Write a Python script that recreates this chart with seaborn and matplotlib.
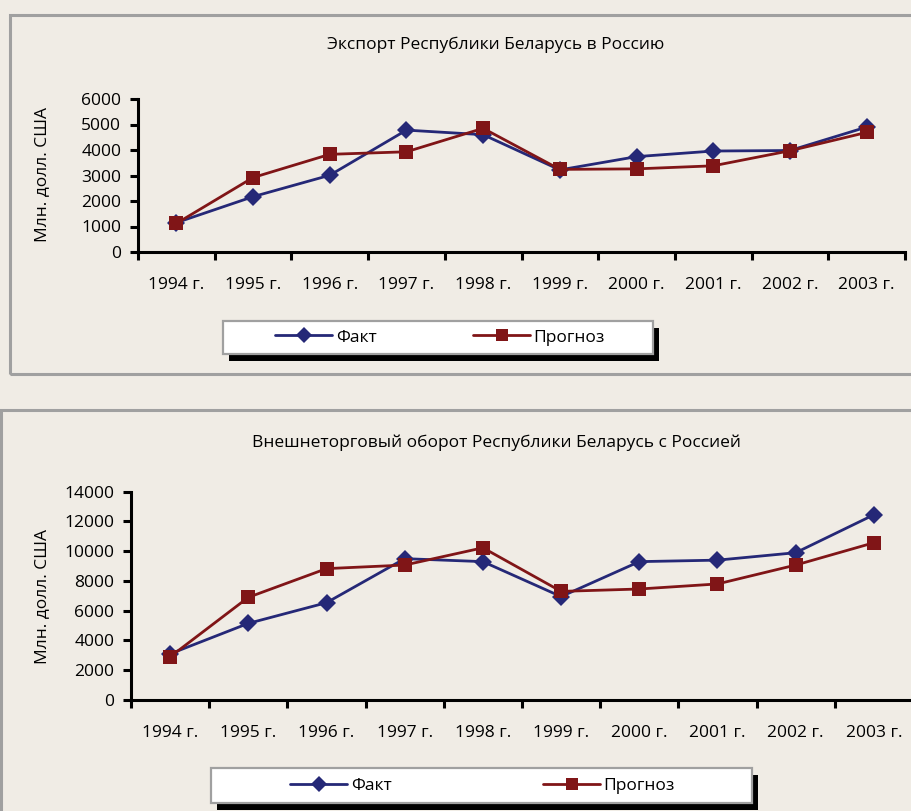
import matplotlib
matplotlib.use('Agg')
import matplotlib.pyplot as plt
from matplotlib.patches import Rectangle
from matplotlib.lines import Line2D
import seaborn as sns
import pandas as pd

years = ['1994 г.', '1995 г.', '1996 г.', '1997 г.', '1998 г.',
         '1999 г.', '2000 г.', '2001 г.', '2002 г.', '2003 г.']

export_fact = [1150, 2170, 3010, 4780, 4600, 3220, 3740, 3960, 3980, 4900]
export_prog = [1120, 2920, 3830, 3930, 4850, 3240, 3260, 3380, 3970, 4690]

trade_fact = [3100, 5150, 6540, 9500, 9300, 6950, 9300, 9400, 9900, 12450]
trade_prog = [2900, 6900, 8830, 9070, 10230, 7300, 7460, 7800, 9070, 10570]

series_names = ['Факт', 'Прогноз']
titles = ['Экспорт Республики Беларусь в Россию',
          'Внешнеторговый оборот Республики Беларусь с Россией']
ylabel = 'Млн. долл. США'

BG = '#F0ECE5'
BORDER = '#A0A0A0'
NAVY = '#252877'
RED = '#801517'

sns.set_style('white')
plt.rcParams['font.family'] = ['Open Sans', 'DejaVu Sans']
plt.rcParams.update({'text.color': 'black', 'axes.labelcolor': 'black',
                     'xtick.color': 'black', 'ytick.color': 'black'})

W, H = 912, 811
fig = plt.figure(figsize=(W / 100, H / 100), dpi=100, facecolor=BG)


def fx(px):
    return px / W


def fy(py):
    return 1 - py / H


def rect(x0, y0, x1, y1, **kw):
    r = Rectangle((fx(x0), fy(y1)), fx(x1) - fx(x0), fy(y0) - fy(y1),
                  transform=fig.transFigure, **kw)
    fig.add_artist(r)


def draw_panel(box, fact, prog, ymax, ystep, title, title_y, ylab_y, leg_box, leg_inner):
    left, top, right, bottom = box
    ax = fig.add_axes([fx(left), fy(bottom), fx(right) - fx(left), fy(top) - fy(bottom)])
    ax.set_facecolor('none')
    df = pd.DataFrame({'year': years * 2,
                       'value': fact + prog,
                       'series': [series_names[0]] * len(years) + [series_names[1]] * len(years)})
    sns.lineplot(data=df[df.series == 'Факт'], x='year', y='value', color=NAVY,
                 marker='D', markersize=9, markeredgewidth=0, linewidth=2,
                 sort=False, ax=ax)
    sns.lineplot(data=df[df.series == 'Прогноз'], x='year', y='value', color=RED,
                 marker='s', markersize=10, markeredgewidth=0, linewidth=2,
                 sort=False, ax=ax)
    ax.set_xlim(-0.5, len(years) - 0.5)
    ax.set_ylim(0, ymax)
    ax.set_yticks(range(0, ymax + 1, ystep))
    ax.set_xticks(range(len(years)))
    ax.set_xticklabels(years)
    ax.set_xticks([i - 0.5 for i in range(len(years) + 1)], minor=True)
    ax.tick_params(axis='x', which='major', bottom=True, length=0, pad=18, labelsize=12.5)
    ax.tick_params(axis='x', which='minor', bottom=True, length=6, width=2.2,
                   direction='out', color='black')
    ax.tick_params(axis='y', which='major', left=True, length=6, width=2.2,
                   direction='out', color='black', pad=6, labelsize=12.5)
    sns.despine(ax=ax)
    for s in ['left', 'bottom']:
        ax.spines[s].set_linewidth(2.2)
        ax.spines[s].set_color('black')
    ax.set_xlabel('')
    ax.set_ylabel(ylabel, fontsize=12.5)
    ax.yaxis.set_label_coords((42 - left) / (right - left), (bottom - ylab_y) / (bottom - top))
    ax.yaxis.label.set_va('center')
    ax.grid(False)
    fig.text(fx(496), fy(title_y), title, ha='center', va='center', fontsize=12.5)

    # legend box with shadow
    lx0, ly0, lx1, ly1 = leg_box
    rect(lx0 + 6, ly0 + 7, lx1 + 6, ly1 + 7, facecolor='black', edgecolor='none', zorder=1)
    rect(lx0, ly0, lx1, ly1, facecolor='white', edgecolor=BORDER, linewidth=1.6, zorder=2)
    handles = [Line2D([], [], color=NAVY, marker='D', markersize=8, markeredgewidth=0, linewidth=2),
               Line2D([], [], color=RED, marker='s', markersize=9, markeredgewidth=0, linewidth=2)]
    ix0, ix1 = leg_inner
    fig.legend(handles, series_names, loc='center', ncol=2, mode='expand', frameon=False,
               bbox_to_anchor=(fx(ix0), fy(ly1), fx(ix1) - fx(ix0), fy(ly0) - fy(ly1)),
               borderpad=0, borderaxespad=0, handlelength=3.3, handletextpad=0.2,
               fontsize=12.5)
    return ax


# panel borders
rect(10.5, 14.5, 940, 374, fill=False, edgecolor=BORDER, linewidth=2.2, zorder=0)
rect(1, 409.5, 940, 900, fill=False, edgecolor=BORDER, linewidth=2.2, zorder=0)

draw_panel((138, 99, 905, 252), export_fact, export_prog, 6000, 1000,
           titles[0], 45, 175, (223, 321, 653, 354), (275, 605))
draw_panel((131, 491.7, 913, 700), trade_fact, trade_prog, 14000, 2000,
           titles[1], 443, 596, (211, 768, 752, 803), (290, 675))

fig.savefig('out.png', dpi=100, facecolor=BG)
